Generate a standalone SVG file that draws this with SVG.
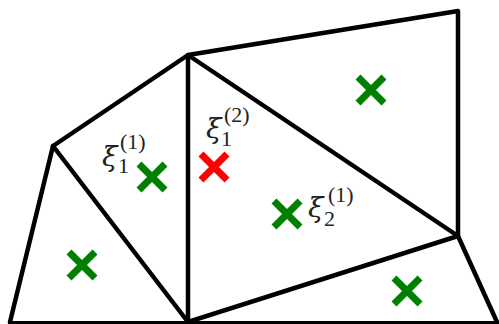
<svg xmlns="http://www.w3.org/2000/svg" width="499" height="324" viewBox="0 0 499 324">
<style>
.e{stroke:#000;stroke-width:4.5;fill:none;stroke-linecap:round;stroke-linejoin:round}
.g{stroke:#008000;stroke-width:7}
.r{stroke:#ff0000;stroke-width:7}
.xi{font-family:"DejaVu Serif","Liberation Serif",serif;font-style:italic;font-size:28px;fill:#222}
.s{font-family:"Liberation Serif","DejaVu Serif",serif;font-size:22px;fill:#222}
</style>
<rect width="499" height="324" fill="#fff"/>
<g id="connectors">
<path class="e" d="M10 322 L53 146 L188 55 L458 11 L458 236 L497 322"/>
<path class="e" d="M53 146 L188 322 L188 55 L458 236 L188 322"/>
<line x1="8" y1="322.5" x2="499" y2="322.5" stroke="#000" stroke-width="3"/>
</g>
<g id="markers">
<path class="g" d="M358 77 L384 103 M384 77 L358 103"/>
<path class="g" d="M139 164 L165 190 M165 164 L139 190"/>
<path class="r" d="M201 154 L227 180 M227 154 L201 180"/>
<path class="g" d="M274 201 L300 227 M300 201 L274 227"/>
<path class="g" d="M69 252 L95 278 M95 252 L69 278"/>
<path class="g" d="M394 278 L420 304 M420 278 L394 304"/>
</g>
<g id="label1">
<text class="xi" x="102" y="166">ξ</text>
<text class="s" x="118" y="173">1</text>
<text class="s" x="120" y="149">(1)</text>
</g>
<g id="label2">
<text class="xi" x="206" y="138">ξ</text>
<text class="s" x="221" y="146">1</text>
<text class="s" x="224" y="122">(2)</text>
</g>
<g id="label3">
<text class="xi" x="308" y="217">ξ</text>
<text class="s" x="324" y="226">2</text>
<text class="s" x="328" y="202">(1)</text>
</g>
</svg>
